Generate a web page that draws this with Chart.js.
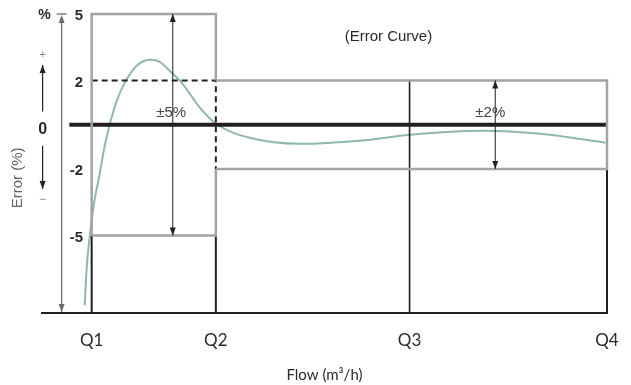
<!DOCTYPE html>
<html>
<head>
<meta charset="utf-8">
<script src="https://cdn.jsdelivr.net/npm/chart.js@4"></script>
<style>
  html,body{margin:0;padding:0;background:#fff;}
  #wrap{width:631px;height:385px;position:relative;}
</style>
</head>
<body>
<div id="wrap"><canvas id="chart"></canvas></div>
<script>
// ════════════════════════════════
// data
// ════════════════════════════════
const qLabels = ['Q1','Q2','Q3','Q4'];
const qPos    = [1, 2, 3.56, 5.15];      // flow positions of Q1..Q4

const yTickVals = [5, 2, -2, -5];
const lowLimit  = 5;                     // ±5% between Q1 and Q2
const highLimit = 2;                     // ±2% between Q2 and Q4

const curveX = [0.944,0.96,0.984,1.016,1.065,1.105,1.145,1.202,1.266,1.363,1.468,1.548,1.629,1.726,1.871,2.0,2.274,2.677,3.16,3.565,4.153,4.613,5.137];
const curveY = [-8.15,-6.44,-5.05,-3.65,-2.2,-0.95,0,1.08,1.89,2.66,2.93,2.84,2.43,1.89,0.77,0.05,-0.59,-0.86,-0.72,-0.45,-0.27,-0.41,-0.81];

const X_MIN = 0.6, Y_MIN = -8.5, Y_MAX = 5;

// ════════════════════════════════
// helpers
// ════════════════════════════════
const el = (id) => document.getElementById(id);
const pts = (arr) => arr.map(([x,y]) => ({x,y}));

function seg(points, color, width, dash){
  return {
    data: pts(points),
    showLine: true,
    borderColor: color,
    borderWidth: width,
    borderDash: dash || [],
    pointRadius: 0,
    fill: false,
    tension: 0
  };
}

const GRAY  = '#a3a3a3';
const BLACK = '#231f20';
const [Q1,Q2,Q3,Q4] = qPos;

// ════════════════════════════════
// annotations (arrows + text)
// ════════════════════════════════
function arrowHead(ctx, x, y, dir, color){
  ctx.fillStyle = color;
  ctx.beginPath();
  ctx.moveTo(x, y);
  ctx.lineTo(x - 3, y - dir*8);
  ctx.lineTo(x + 3, y - dir*8);
  ctx.closePath();
  ctx.fill();
}

function vArrow(ctx, xs, ys, x, y0, y1, color, w){
  const px = xs.getPixelForValue(x);
  const a = ys.getPixelForValue(y0), b = ys.getPixelForValue(y1);
  ctx.strokeStyle = color;
  ctx.lineWidth = w;
  ctx.beginPath();
  ctx.moveTo(px, a);
  ctx.lineTo(px, b);
  ctx.stroke();
  arrowHead(ctx, px, b, b > a ? 1 : -1, color);
}

function txt(ctx, xs, ys, s, x, y, font, color, align){
  ctx.font = font;
  ctx.fillStyle = color;
  ctx.textAlign = align || 'center';
  ctx.textBaseline = 'middle';
  ctx.fillText(s, xs.getPixelForValue(x), ys.getPixelForValue(y));
}

const annot = {
  id: 'annot',
  afterDatasetsDraw(chart){
    const ctx = chart.ctx;
    const xs = chart.scales.x, ys = chart.scales.y;
    ctx.save();

    // main y arrow with T bar
    const axX = 0.758;
    vArrow(ctx, xs, ys, axX, Y_MAX - 0.3, Y_MIN + 0.05, '#6d6d6d', 1.3);
    arrowHead(ctx, xs.getPixelForValue(axX), ys.getPixelForValue(Y_MAX) + 1, -1, '#6d6d6d');
    ctx.strokeStyle = '#6d6d6d';
    ctx.lineWidth = 1.3;
    ctx.beginPath();
    ctx.moveTo(xs.getPixelForValue(axX) - 5, ys.getPixelForValue(Y_MAX));
    ctx.lineTo(xs.getPixelForValue(axX) + 5, ys.getPixelForValue(Y_MAX));
    ctx.stroke();

    // + / - small arrows either side of the 0
    vArrow(ctx, xs, ys, 0.605, 0.6, 2.7, BLACK, 1.2);
    vArrow(ctx, xs, ys, 0.605, -0.95, -2.9, BLACK, 1.2);

    // tolerance arrows
    vArrow(ctx, xs, ys, 1.653, 0, lowLimit, BLACK, 1);
    vArrow(ctx, xs, ys, 1.653, 0, -lowLimit, BLACK, 1);
    vArrow(ctx, xs, ys, 4.25, 0, highLimit, BLACK, 1);
    vArrow(ctx, xs, ys, 4.25, 0, -highLimit, BLACK, 1);

    // y labels
    yTickVals.forEach(v => {
      txt(ctx, xs, ys, String(v), 0.93, v - 0.1, 'bold 15px "Liberation Sans", Arial', '#2a2a2a', 'right');
    });
    txt(ctx, xs, ys, '0', 0.605, -0.22, 'bold 16px "Liberation Sans", Arial', '#2a2a2a');
    txt(ctx, xs, ys, '%', 0.62, Y_MAX - 0.05, 'bold 14px "Liberation Sans", Arial', '#2a2a2a');
    txt(ctx, xs, ys, '+', 0.605, 3.15, '11px "Liberation Sans", Arial', '#8a8a8a');
    txt(ctx, xs, ys, '\u2212', 0.605, -3.4, '12px "Liberation Sans", Arial', '#8a8a8a');

    // tolerance labels
    txt(ctx, xs, ys, '\u00b15%', 1.64, 0.55, '15px "Liberation Sans", Arial', '#444');
    txt(ctx, xs, ys, '\u00b12%', 4.21, 0.55, '15px "Liberation Sans", Arial', '#444');

    // title
    txt(ctx, xs, ys, '(Error Curve)', 3.39, 3.96, '15px "Liberation Sans", Arial', '#2a2a2a');

    // y title, rotated
    ctx.translate(18, ys.getPixelForValue(-2.4));
    ctx.rotate(-Math.PI/2);
    ctx.font = '15px "Liberation Sans", Arial';
    ctx.fillStyle = '#6a625c';
    ctx.textAlign = 'center';
    ctx.textBaseline = 'middle';
    ctx.fillText('Error (%)', 0, 0);

    ctx.restore();
  }
};

// ════════════════════════════════
// datasets
// ════════════════════════════════
function buildSets(){
  return [
    // grey tolerance boxes
    seg([[Q1,-lowLimit],[Q1,lowLimit],[Q2,lowLimit],[Q2,highLimit]], GRAY, 2.5),
    seg([[Q2,-highLimit],[Q2,-lowLimit],[Q1,-lowLimit]], GRAY, 2.5),
    seg([[Q2,highLimit],[Q4,highLimit],[Q4,-highLimit],[Q2,-highLimit]], GRAY, 2.5),
    // dashed
    seg([[Q1,highLimit],[Q2,highLimit],[Q2,-highLimit]], BLACK, 2, [6,4]),
    // black verticals
    seg([[Q1,-lowLimit],[Q1,Y_MIN]], BLACK, 2),
    seg([[Q2,-lowLimit],[Q2,Y_MIN]], BLACK, 2),
    seg([[Q3,highLimit],[Q3,Y_MIN]], BLACK, 1.6),
    seg([[Q4,-highLimit],[Q4,Y_MIN]], BLACK, 2),
    // zero line
    seg([[0.82,0],[Q4,0]], BLACK, 4),
    // error curve
    {
      data: curveX.map((x,i)=>({x, y:curveY[i]})),
      showLine: true,
      borderColor: '#8fb8a6',
      borderWidth: 2,
      pointRadius: 0,
      cubicInterpolationMode: 'monotone',
      fill: false
    }
  ];
}

// ════════════════════════════════
// INIT
// ════════════════════════════════
function init(){
  if(!window.Chart) return;

  new Chart(el('chart').getContext('2d'), {
    type: 'scatter',
    data: { datasets: buildSets() },
    plugins: [annot],
    options: {
      responsive: true,
      maintainAspectRatio: false,
      animation: false,
      clip: false,
      layout: { padding: { left: 42, right: 24, top: 14, bottom: 0 } },
      plugins: { legend: { display: false }, tooltip: { enabled: false } },
      scales: {
        x: {
          type: 'linear',
          min: X_MIN, max: Q4,
          grid: { display: false, drawTicks: false },
          border: { display: true, color: BLACK, width: 2 },
          afterBuildTicks: (s) => { s.ticks = qPos.map(v => ({ value: v })); },
          // fixed axis band so the plot sits where the original does
          afterFit: (s) => { s.height = 72; s.paddingLeft = 0; s.paddingRight = 0; },
          ticks: {
            autoSkip: false, maxRotation: 0, padding: 17,
            color: '#2a2a2a',
            font: { family: 'Lato, "DejaVu Sans", sans-serif', size: 17 },
            callback: (v, i) => qLabels[i]
          },
          title: {
            display: true,
            text: 'Flow (m\u00b3/h)',
            color: '#2a2a2a',
            font: { family: 'Lato, "DejaVu Sans", sans-serif', size: 15 },
            padding: { top: 15, bottom: 1 }
          }
        },
        y: {
          type: 'linear',
          display: false,
          min: Y_MIN, max: Y_MAX
        }
      }
    }
  });
}

init();
</script>
</body>
</html>
